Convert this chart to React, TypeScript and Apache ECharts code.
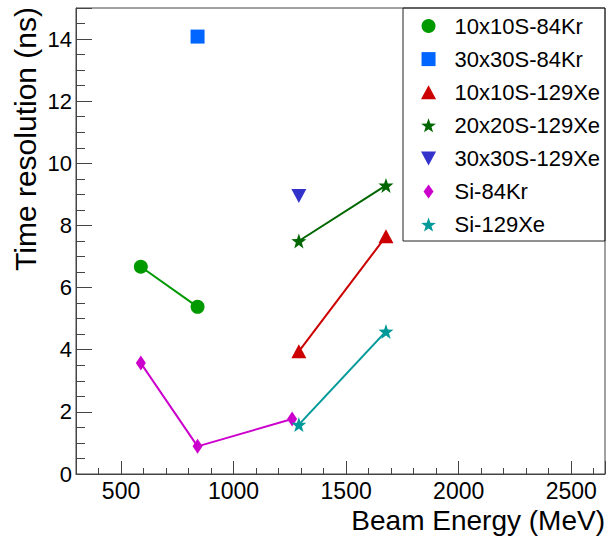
import React, { useEffect, useRef } from "react";
import * as echarts from "echarts";

const seriesNames = [
  "10x10S-84Kr",
  "30x30S-84Kr",
  "10x10S-129Xe",
  "20x20S-129Xe",
  "30x30S-129Xe",
  "Si-84Kr",
  "Si-129Xe",
];

const kr10x10: [number, number][] = [
  [588, 6.67],
  [840, 5.38],
];
const kr30x30: [number, number][] = [[840, 14.08]];
const xe10x10: [number, number][] = [
  [1290, 3.95],
  [1677, 7.65],
];
const xe20x20: [number, number][] = [
  [1290, 7.5],
  [1677, 9.29],
];
const xe30x30: [number, number][] = [[1290, 8.95]];
const siKr: [number, number][] = [
  [588, 3.57],
  [840, 0.89],
  [1260, 1.77],
];
const siXe: [number, number][] = [
  [1290, 1.59],
  [1677, 4.59],
];

const STAR =
  "path://M10,0 L12.35,6.76 L19.51,6.91 L13.8,11.24 L15.88,18.09 L10,14 L4.12,18.09 L6.2,11.24 L0.49,6.91 L7.65,6.76 Z";
const DIAMOND = "path://M5,0 L10,7 L5,14 L0,7 Z";
const SQUARE = "path://M0,0 L14,0 L14,14 L0,14 Z";
const TRI_UP = "path://M7,0 L14,13 L0,13 Z";
const TRI_DOWN = "path://M0,0 L14,0 L7,13 Z";
const FONT = "Liberation Sans";

export default function App() {
  const ref = useRef<HTMLDivElement>(null);
  useEffect(() => {
    if (!ref.current) return;
    const chart = echarts.init(ref.current, null, { renderer: "svg" });
    const mk = (
      name: string,
      data: [number, number][],
      color: string,
      symbol: string,
      size: number | number[],
      rotate = 0
    ) => ({
      name,
      type: "line",
      data,
      symbol,
      symbolSize: size,
      symbolRotate: rotate,
      showAllSymbol: true,
      itemStyle: { color },
      lineStyle: { color, width: 2 },
      z: 3,
    });
    chart.setOption({
      animation: false,
      backgroundColor: "#ffffff",
      grid: {
        left: 76,
        top: 8,
        right: 5,
        bottom: 63,
        show: true,
        borderColor: "#444",
        borderWidth: 1,
      },
      xAxis: {
        type: "value",
        min: 300,
        max: 2650,
        splitNumber: 5,
        axisLine: { show: true, lineStyle: { color: "#444", width: 1 } },
        axisTick: { show: true, inside: true, length: 13, lineStyle: { color: "#444" } },
        minorTick: { show: true, splitNumber: 5, length: 6, lineStyle: { color: "#444" } },
        splitLine: { show: false },
        axisLabel: {
          showMinLabel: false,
          showMaxLabel: false,
          fontFamily: FONT,
          fontSize: 23,
          color: "#000",
          margin: 5,
          formatter: (v: number) => String(v),
        },
      },
      yAxis: {
        type: "value",
        min: 0,
        max: 15,
        interval: 2,
        axisLine: { show: true, lineStyle: { color: "#444", width: 1 } },
        axisTick: { show: true, inside: true, length: 16, lineStyle: { color: "#444" } },
        minorTick: { show: true, splitNumber: 4, length: 9, lineStyle: { color: "#444" } },
        splitLine: { show: false },
        axisLabel: {
          showMaxLabel: false,
          fontFamily: FONT,
          fontSize: 22,
          color: "#000",
          margin: 4,
          formatter: (v: number) => String(v),
        },
      },
      legend: {
        orient: "vertical",
        left: 421,
        top: 15,
        padding: 0,
        itemWidth: 42,
        itemHeight: 14,
        itemGap: 11.1,
        selectedMode: false,
        textStyle: { fontFamily: FONT, fontSize: 22, color: "#000", lineHeight: 22 },
        data: [
          { name: seriesNames[0], icon: "circle" },
          { name: seriesNames[1], icon: SQUARE },
          { name: seriesNames[2], icon: TRI_UP },
          { name: seriesNames[3], icon: STAR },
          { name: seriesNames[4], icon: TRI_DOWN },
          { name: seriesNames[5], icon: DIAMOND },
          { name: seriesNames[6], icon: STAR },
        ],
      },
      graphic: [
        {
          type: "rect",
          shape: { x: 403, y: 8, width: 202, height: 233 },
          style: { fill: "none", stroke: "#222", lineWidth: 1 },
          z: 10,
        },
        {
          type: "text",
          x: 605,
          y: 506,
          style: {
            text: "Beam Energy (MeV)",
            fontFamily: FONT,
            fontSize: 28,
            fill: "#000",
            textAlign: "right",
            textVerticalAlign: "top",
          },
        },
        {
          type: "text",
          x: 25,
          y: 7,
          rotation: Math.PI / 2,
          style: {
            text: "Time resolution (ns)",
            fontFamily: FONT,
            fontSize: 30,
            fill: "#000",
            textAlign: "right",
            textVerticalAlign: "middle",
          },
        },
      ],
      series: [
        mk(seriesNames[0], kr10x10, "#009900", "circle", 14),
        mk(seriesNames[1], kr30x30, "#0066ff", "rect", 14),
        mk(seriesNames[2], xe10x10, "#cc0000", TRI_UP, [15, 14]),
        mk(seriesNames[3], xe20x20, "#006600", STAR, 15),
        mk(seriesNames[4], xe30x30, "#3333cc", TRI_DOWN, [15, 14]),
        mk(seriesNames[5], siKr, "#cc00cc", "diamond", [10, 15]),
        mk(seriesNames[6], siXe, "#009999", STAR, 15),
      ],
    });
    return () => chart.dispose();
  }, []);
  return (
    <div
      ref={ref}
      style={{ position: "fixed", left: 0, top: 0, width: 610, height: 537, background: "#fff" }}
    />
  );
}
